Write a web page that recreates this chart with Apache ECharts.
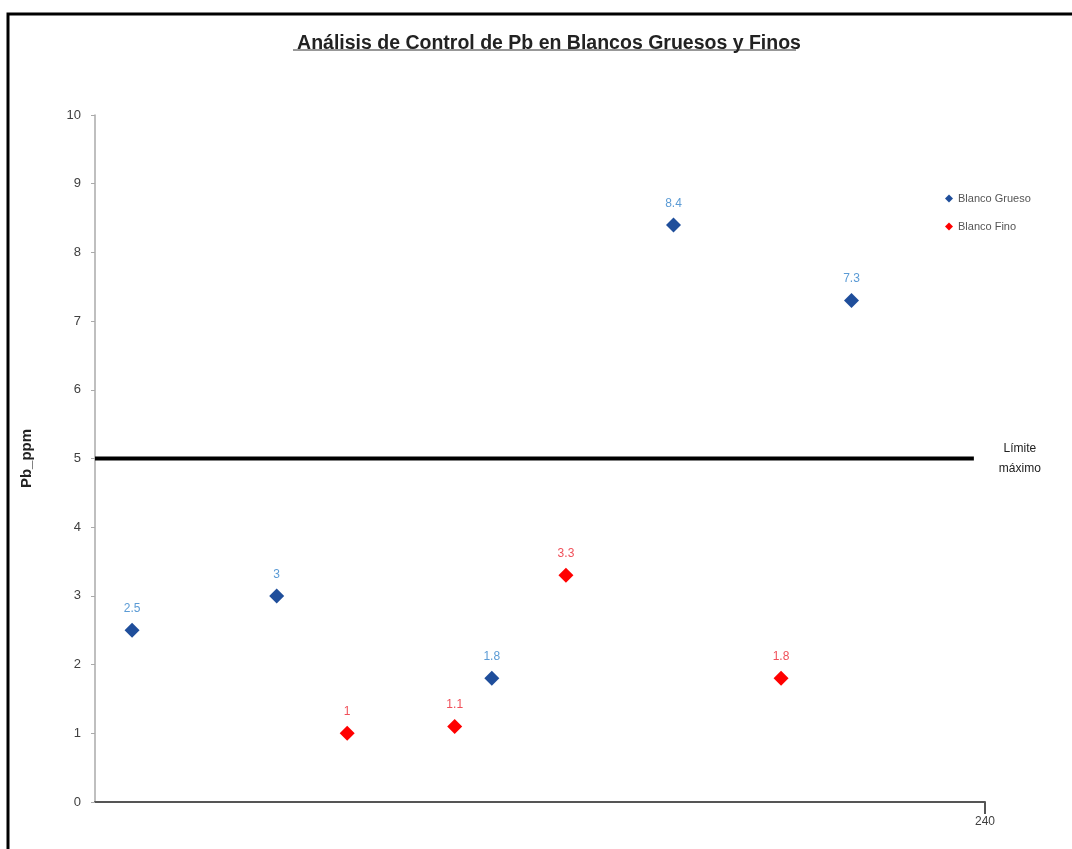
<!DOCTYPE html>
<html><head><meta charset="utf-8">
<script src="https://cdn.jsdelivr.net/npm/echarts@6/dist/echarts.min.js"></script>
<style>html,body{margin:0;padding:0;background:#fff}#c{width:1072px;height:849px}</style>
</head><body><div id="c"></div>
<script>
const titleText = 'Análisis de Control de Pb en Blancos Gruesos y Finos';
const gruesoX = [10, 49, 107, 156, 204];
const gruesoY = [2.5, 3, 1.8, 8.4, 7.3];
const finoX = [68, 97, 127, 185];
const finoY = [1, 1.1, 3.3, 1.8];
const limitValue = 5;
const limitX = [0, 237];
const xTicks = [0, 240];
const yTicks = [0, 10];

const chart = echarts.init(document.getElementById('c'));
const zip = (xs, ys) => xs.map((x, i) => [x, ys[i]]);
chart.setOption({
  animation: false,
  backgroundColor: '#fff',
  textStyle: { fontFamily: 'Liberation Sans, Arial, sans-serif' },
  title: {
    text: titleText, left: 544, top: 29, textAlign: 'center',
    textStyle: { fontSize: 19.5, fontWeight: 'bold', color: '#222' }
  },
  graphic: [
    { type: 'rect', shape: { x: 8, y: 14, width: 1200, height: 1000 }, style: { fill: 'none', stroke: '#000', lineWidth: 3 } },
    { type: 'line', shape: { x1: 293, y1: 50, x2: 796, y2: 50 }, style: { stroke: '#333', lineWidth: 1.2 } }
  ],
  legend: {
    orient: 'vertical', left: 940, top: 188, itemGap: 17,
    itemWidth: 8, itemHeight: 8, icon: 'diamond',
    textStyle: { fontSize: 11, color: '#555' },
    data: ['Blanco Grueso', 'Blanco Fino']
  },
  grid: { left: 95, right: 87, top: 115, bottom: 47 },
  xAxis: {
    type: 'value', min: xTicks[0], max: xTicks[1], interval: xTicks[1] - xTicks[0],
    splitLine: { show: false },
    axisLine: { lineStyle: { color: '#555', width: 2 } },
    axisTick: { show: true, length: 12, inside: false, lineStyle: { color: '#555', width: 2 } },
    axisLabel: { showMinLabel: false, color: '#404040', fontSize: 12, margin: 14 }
  },
  yAxis: {
    type: 'value', min: yTicks[0], max: yTicks[1], interval: 1,
    name: 'Pb_ppm', nameLocation: 'middle', nameGap: 61,
    nameTextStyle: { fontSize: 15, fontWeight: 'bold', color: '#222' },
    splitLine: { show: false },
    axisLine: { show: true, lineStyle: { color: '#aaa', width: 1.5 } },
    axisTick: { show: true, length: 4, lineStyle: { color: '#aaa' } },
    axisLabel: { color: '#404040', fontSize: 13, margin: 14 }
  },
  series: [
    {
      name: 'Límite', type: 'line', data: zip(limitX, [limitValue, limitValue]),
      symbol: 'none', lineStyle: { color: '#000', width: 4 }, silent: true,
      endLabel: { show: true, formatter: 'Límite\nmáximo', color: '#222', fontSize: 12, align: 'center', offset: [38, 0], lineHeight: 20 }
    },
    {
      name: 'Blanco Grueso', type: 'scatter', symbol: 'diamond', symbolSize: 15,
      data: zip(gruesoX, gruesoY), itemStyle: { color: '#1F4E9B', opacity: 1 },
      label: { show: true, position: 'top', distance: 8, color: '#5B9BD5', fontSize: 12 }
    },
    {
      name: 'Blanco Fino', type: 'scatter', symbol: 'diamond', symbolSize: 15,
      data: zip(finoX, finoY), itemStyle: { color: '#FF0000', opacity: 1 },
      label: { show: true, position: 'top', distance: 8, color: '#F0505A', fontSize: 12 }
    }
  ]
});
</script></body></html>
